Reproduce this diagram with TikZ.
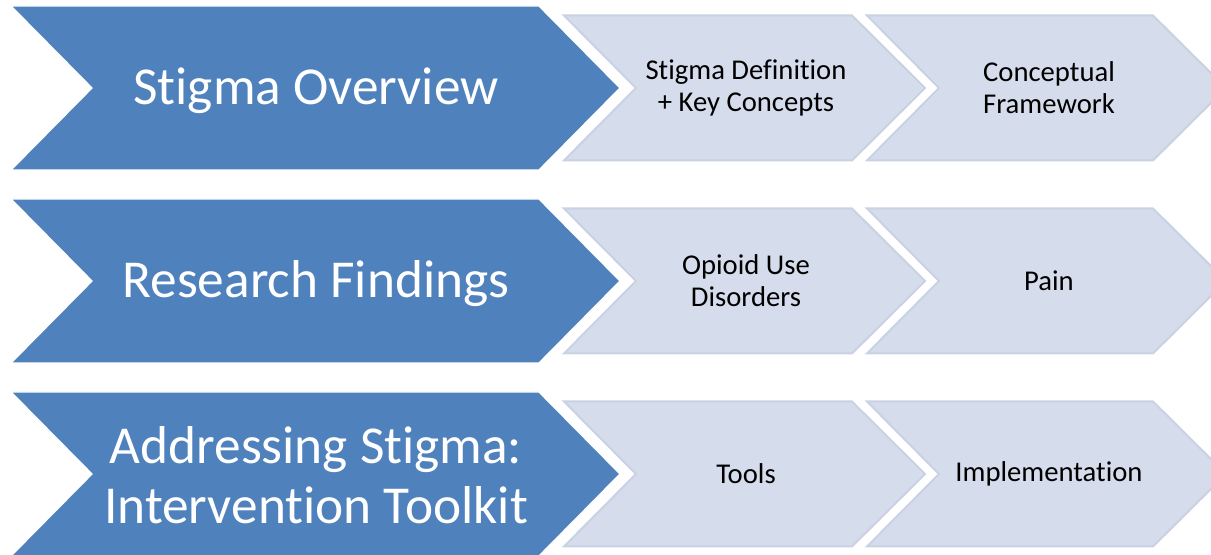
\documentclass[tikz,border=0pt]{standalone}
\usepackage{fontspec}
\setmainfont[Ligatures={NoCommon,NoContextual}]{Carlito}
\usepackage{tikz}
\usetikzlibrary{calc}
\definecolor{chevblue}{RGB}{79,129,189}
\definecolor{chevgrey}{RGB}{213,220,235}
\definecolor{chevedge}{RGB}{201,209,227}
\tikzset{
  bluechev/.style={fill=chevblue, draw=white, line width=1pt},
  greychev/.style={fill=chevgrey, draw=chevedge, line width=1.5pt, line join=miter},
  bigtxt/.style={text=white, align=center, font=\fontsize{40}{45}\selectfont},
  smalltxt/.style={text=black, align=center, font=\fontsize{21.5}{24}\selectfont}
}
\begin{document}
\begin{tikzpicture}[x=0.75pt,y=-0.75pt]
\useasboundingbox (0,0) rectangle (1211,555);
\clip (0,0) rectangle (1211,555);
% three rows of chevrons, c = vertical centre of the row
\foreach \c in {88,281,474}{
    % big blue chevron
    \draw[bluechev] (11,\c-82) -- (539,\c-82) -- (620,\c) -- (539,\c+82)
        -- (11,\c+82) -- (92,\c) -- cycle;
    % two light chevrons
    \draw[greychev] (564,\c-72.5) -- (852,\c-72.5) -- (925,\c) -- (852,\c+72.5)
        -- (564,\c+72.5) -- (636,\c) -- cycle;
    \draw[greychev] (867,\c-72.5) -- (1153,\c-72.5) -- (1226,\c) -- (1153,\c+72.5)
        -- (867,\c+72.5) -- (939,\c) -- cycle;
}
% labels
\node[bigtxt] (overview) at (316,91) {Stigma Overview};
\node[smalltxt] (definition) at (746,88) {Stigma Definition\\+ Key Concepts};
\node[smalltxt] (framework) at (1049,88) {Conceptual\\Framework};
\node[bigtxt] (findings) at (316,284) {Research Findings};
\node[smalltxt] (opioid) at (746,281) {Opioid Use\\Disorders};
\node[smalltxt] (pain) at (1049,281) {Pain};
\node[bigtxt] (addressing) at (316,475) {Addressing Stigma:\\Intervention Toolkit};
\node[smalltxt] (tools) at (746,474) {Tools};
\node[smalltxt] (implementation) at (1049,474) {Implementation};
\end{tikzpicture}
\end{document}
